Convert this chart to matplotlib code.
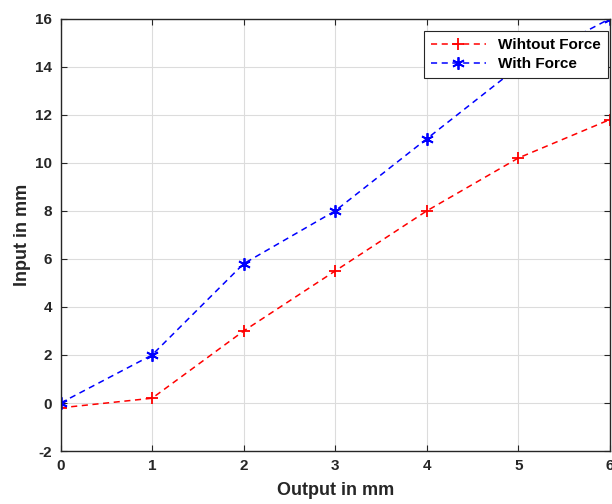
import matplotlib
matplotlib.use("Agg")
import matplotlib.pyplot as plt

x = [0, 1, 2, 3, 4, 5, 6]
without_force = [-0.2, 0.2, 3.0, 5.5, 8.0, 10.2, 11.8]
with_force = [0.0, 2.0, 5.8, 8.0, 11.0, 14.0, 16.0]
xticks = [0, 1, 2, 3, 4, 5, 6]
yticks = [-2, 0, 2, 4, 6, 8, 10, 12, 14, 16]

plt.rcParams['font.family'] = ['Liberation Sans', 'DejaVu Sans']
plt.rcParams['font.weight'] = 'bold'
plt.rcParams['axes.unicode_minus'] = False

fig = plt.figure(figsize=(6.12, 5.04), dpi=100)
ax = fig.add_axes([0.0989, 0.105, 0.8978, 0.858])

ax.plot(x, without_force, color='red', linestyle='--', marker='+', markersize=9,
        markeredgewidth=1.3, linewidth=1.1, label='Wihtout Force', dashes=(4, 3))
ax.plot(x, with_force, color='blue', linestyle='--', marker=(6, 2, 0), markersize=9,
        markeredgewidth=1.3, linewidth=1.1, label='With Force', dashes=(4, 3))

ax.set_xlim(0, 6)
ax.set_ylim(-2, 16)
ax.set_xticks(xticks)
ax.set_yticks(yticks)
ax.grid(True, color='#dcdcdc', linewidth=0.8)
ax.set_axisbelow(True)
for s in ax.spines.values():
    s.set_color('#262626')
    s.set_linewidth(1.0)
ax.tick_params(direction='in', top=True, right=True, length=4, color='#262626',
               labelsize=11, labelcolor='#262626', pad=6)
for lbl in ax.get_xticklabels() + ax.get_yticklabels():
    lbl.set_fontweight('bold')

ax.set_xlabel('Output in mm', fontsize=13, fontweight='bold', color='#262626', labelpad=6)
ax.set_ylabel('Input in mm', fontsize=13, fontweight='bold', color='#262626', labelpad=3)

leg = ax.legend(loc='upper right', bbox_to_anchor=(0.996, 0.971), fontsize=11,
                frameon=True, fancybox=False, framealpha=1, edgecolor='#262626',
                borderaxespad=0, handlelength=3.6, borderpad=0.45, labelspacing=0.35,
                handletextpad=0.8)
leg.get_frame().set_linewidth(0.8)
for t in leg.get_texts():
    t.set_fontweight('bold')

fig.savefig('out.png', dpi=100)
